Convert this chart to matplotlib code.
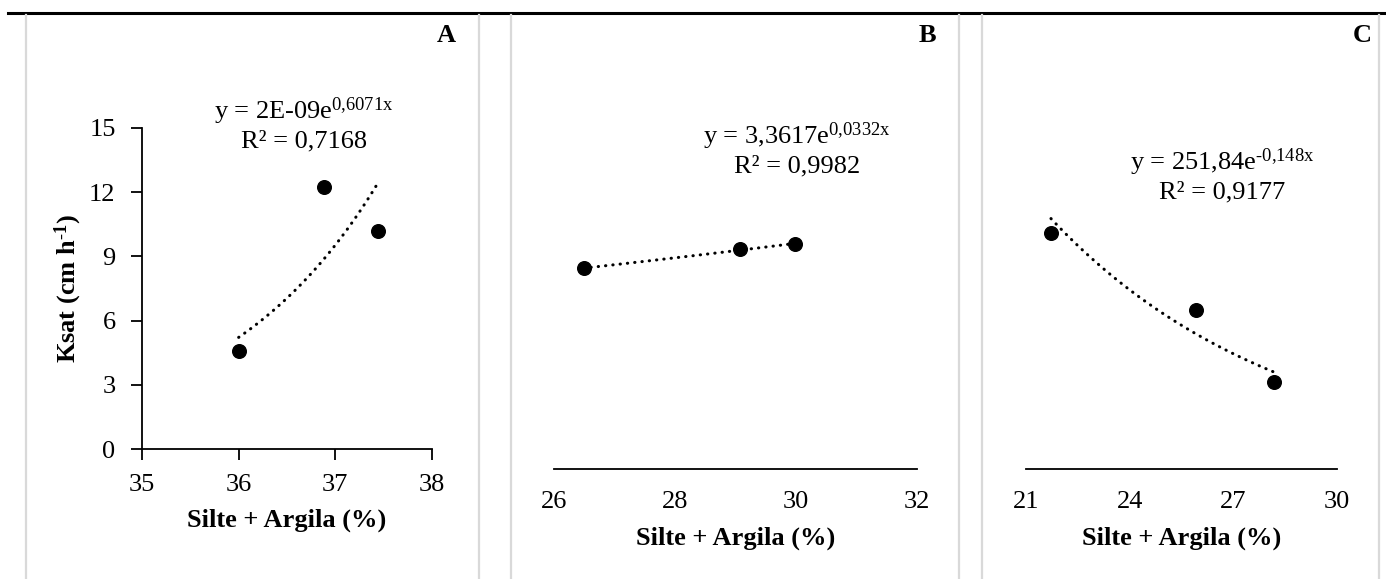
import numpy as np
import matplotlib
matplotlib.use("Agg")
import matplotlib.pyplot as plt
from matplotlib.lines import Line2D

plt.rcParams['font.family'] = 'Liberation Serif'
plt.rcParams['mathtext.fontset'] = 'custom'
plt.rcParams['mathtext.rm'] = 'Liberation Serif'
plt.rcParams['mathtext.it'] = 'Liberation Serif:italic'
plt.rcParams['mathtext.bf'] = 'Liberation Serif:bold'

# data (Silte + Argila %, Ksat cm/h)
x_a = [36.0, 36.88, 37.44]
y_a = [4.6, 12.25, 10.2]
x_b = [26.49, 29.07, 29.99]
y_b = [8.09, 8.86, 9.07]
x_c = [21.73, 25.91, 28.18]
y_c = [9.53, 6.43, 3.51]

eq_a = ["y = 2E-09e$^{\\mathrm{0{,}6071x}}$", "R² = 0,7168"]
eq_b = ["y = 3,3617e$^{\\mathrm{0{,}0332x}}$", "R² = 0,9982"]
eq_c = ["y = 251,84e$^{\\mathrm{\\text{-}0{,}148x}}$", "R² = 0,9177"]

xticks_a = [35, 36, 37, 38]
xticks_b = [26, 28, 30, 32]
xticks_c = [21, 24, 27, 30]
yticks_a = [0, 3, 6, 9, 12, 15]

W, H = 1386, 579
fig = plt.figure(figsize=(W / 100, H / 100), dpi=100)


def fx(px):
    return px / W


def fy(py):
    return 1 - py / H


# black rule on top and grey panel frames
fig.add_artist(Line2D([fx(8), 1], [fy(13), fy(13)], color='black', lw=2.2))
for xp in [26, 479, 511, 959, 982, 1379]:
    fig.add_artist(Line2D([fx(xp), fx(xp)], [fy(15), 0], color='#d9d9d9', lw=1.6))

fs = 19


def panel(rect, xs, ys, xticks, eq, eq_pos, letter, letter_pos, xlab_y, show_y):
    ax = fig.add_axes(rect)
    ax.set_xlim(xticks[0], xticks[-1])
    ax.set_ylim(0, 15)
    ax.set_xticks(xticks)
    ax.spines['top'].set_visible(False)
    ax.spines['right'].set_visible(False)
    ax.spines['bottom'].set_linewidth(1.3)
    ax.spines['left'].set_linewidth(1.3)
    ax.patch.set_alpha(0)

    # exponential trendline (fit on log y)
    b, a = np.polyfit(xs, np.log(ys), 1)
    xx = np.linspace(min(xs), max(xs), 100)
    ax.plot(xx, np.exp(a) * np.exp(b * xx), color='black', lw=2.2,
            linestyle=(0, (0.1, 2.3)), dash_capstyle='round')
    ax.plot(xs, ys, 'o', color='black', ms=9.8, clip_on=False)

    if show_y:
        ax.set_yticks(yticks_a)
        ax.tick_params(axis='both', direction='out', length=8, width=1.3,
                       labelsize=fs, pad=10)
        ax.tick_params(axis='y', pad=11)
        fig.text(fx(68), fy(289), 'Ksat (cm h$^{\\mathbf{\\text{-}1}}$)', fontsize=fs,
                 fontweight='bold', rotation=90, ha='center', va='center')
    else:
        ax.spines['left'].set_visible(False)
        ax.set_yticks([])
        ax.tick_params(axis='x', length=0, labelsize=fs, pad=16)

    fig.text((rect[0] + rect[2] / 2), fy(xlab_y), 'Silte + Argila (%)', fontsize=fs,
             fontweight='bold', ha='center', va='center')
    fig.text(fx(eq_pos[0]), fy(eq_pos[1]), eq[0], fontsize=fs, ha='center', va='center')
    fig.text(fx(eq_pos[0]), fy(eq_pos[1] + 30), eq[1], fontsize=fs, ha='center', va='center')
    fig.text(fx(letter_pos), fy(35), letter, fontsize=fs, fontweight='bold',
             ha='center', va='center')
    return ax


panel([fx(142), fy(449), fx(432) - fx(142), fy(128) - fy(449)],
      x_a, y_a, xticks_a, eq_a, (304, 111), 'A', 446, 520, True)
panel([fx(554), fy(469), fx(917) - fx(554), fy(97) - fy(469)],
      x_b, y_b, xticks_b, eq_b, (797, 136), 'B', 927, 538, False)
panel([fx(1025.7), fy(469), fx(1337.3) - fx(1025.7), fy(97) - fy(469)],
      x_c, y_c, xticks_c, eq_c, (1222, 162), 'C', 1362, 538, False)

fig.savefig('out.png', dpi=100)
